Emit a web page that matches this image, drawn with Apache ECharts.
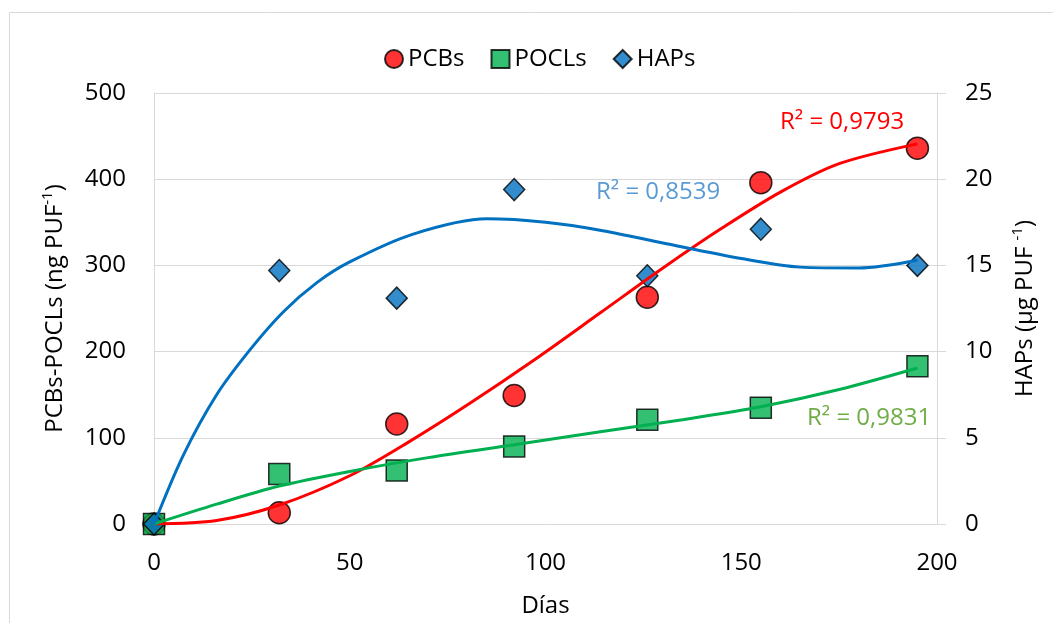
<!DOCTYPE html>
<html>
<head>
<meta charset="utf-8">
<script src="https://cdn.jsdelivr.net/npm/echarts@6/dist/echarts.min.js"></script>
<style>
  html, body { margin: 0; padding: 0; background: #fff; }
  #chart { width: 1053px; height: 623px; }
</style>
</head>
<body>
<div id="chart"></div>
<script>
// Sampling days
const days = [0, 32, 62, 92, 126, 155, 195];
// Measured amounts per sampler
const pcbs = [0, 13, 116, 149, 263, 396, 436];      // ng PUF-1
const pocls = [0, 58, 62, 90, 121, 135, 183];       // ng PUF-1
const haps = [0, 14.7, 13.1, 19.4, 14.4, 17.1, 15.0]; // µg PUF-1

// Polynomial trend lines, sampled along each fitted curve ([day, value])
const pcbsTrend = [[0, 0], [16, 4], [32, 22], [50, 56], [65, 95], [80, 138], [97, 190], [114, 245],
  [130, 297], [145, 343], [160, 385], [175, 418], [195, 441]];
const poclsTrend = [[0, 0], [16, 23], [32, 44], [50, 61], [70, 77], [92, 92], [114, 107],
  [135, 121], [155, 136], [175, 156], [195, 181]];
const hapsTrend = [[0, 0], [7.5, 4.0], [16, 7.5], [24.5, 10.1], [33, 12.3], [41.6, 14.0], [50, 15.2],
  [66, 16.8], [85, 17.7], [100, 17.5], [115, 17.0], [130, 16.3], [150, 15.4], [165, 14.9],
  [180, 14.85], [195, 15.3]];

// Coefficients of determination of each fit
const r2Labels = { pcbs: 'R² = 0,9793', haps: 'R² = 0,8539', pocls: 'R² = 0,9831' };

// Axis ticks
const xTicks = { min: 0, max: 200, interval: 50 };
const leftTicks = { min: 0, max: 500, interval: 100 };
const rightTicks = { min: 0, max: 25, interval: 5 };

const FONT = '"Open Sans", "Noto Sans", sans-serif';
const GRID_GRAY = '#d9d9d9';
const C_RED = '#ff0000', C_GREEN = '#00b050', C_BLUE = '#0070c0';

const pairs = (ys) => days.map((d, i) => [d, ys[i]]);

const chart = echarts.init(document.getElementById('chart'), null, { renderer: 'canvas' });

const markerStyle = (color) => ({ color: color, borderColor: '#000', borderWidth: 1.5 });
const trendLine = (name, data, color, yIdx) => ({
  name: name, type: 'line', data: data, yAxisIndex: yIdx, smooth: 0.3,
  showSymbol: false, symbol: 'none', z: 3, silent: true,
  lineStyle: { color: color, width: 3 }
});

const nameRich = {
  b: { fontSize: 24, fontFamily: FONT, color: '#000', lineHeight: 30 },
  s: { fontSize: 15, fontFamily: FONT, color: '#000', lineHeight: 16, verticalAlign: 'top' }
};

chart.setOption({
  animation: false,
  backgroundColor: '#fff',
  textStyle: { fontFamily: FONT },
  graphic: [
    { type: 'rect', silent: true, z: -10,
      shape: { x: 9.5, y: 12.5, width: 1200, height: 800 },
      style: { fill: 'none', stroke: GRID_GRAY, lineWidth: 1 } },
    { type: 'text', left: 780, top: 110, z: 10,
      style: { text: r2Labels.pcbs, fill: C_RED, font: '24px ' + FONT } },
    { type: 'text', left: 596, top: 180, z: 10,
      style: { text: r2Labels.haps, fill: '#5b9bd5', font: '24px ' + FONT } },
    { type: 'text', left: 807, top: 406, z: 10,
      style: { text: r2Labels.pocls, fill: '#70ad47', font: '24px ' + FONT } }
  ],
  legend: {
    data: [
      { name: 'PCBs', icon: 'circle' },
      { name: 'POCLs', icon: 'rect' },
      { name: 'HAPs', icon: 'diamond' }
    ],
    left: 379, top: 42,
    itemWidth: 18, itemHeight: 18, itemGap: 26,
    textStyle: { fontSize: 24, color: '#000', fontFamily: FONT, padding: [0, 0, 0, 0] }
  },
  grid: { left: 154, right: 116, top: 93, bottom: 99, containLabel: false },
  xAxis: {
    type: 'value', min: xTicks.min, max: xTicks.max, interval: xTicks.interval,
    name: 'Días', nameLocation: 'middle', nameGap: 70,
    nameTextStyle: { fontSize: 24, color: '#000', fontFamily: FONT },
    axisLine: { show: true, lineStyle: { color: GRID_GRAY, width: 1 } },
    axisTick: { show: false },
    splitLine: { show: false },
    axisLabel: { fontSize: 24, color: '#000', margin: 27, fontFamily: FONT }
  },
  yAxis: [
    {
      type: 'value', position: 'left',
      min: leftTicks.min, max: leftTicks.max, interval: leftTicks.interval,
      name: '{b|PCBs-POCLs (ng PUF}{s|-1}{b|)}',
      nameLocation: 'middle', nameGap: 84, nameRotate: 90,
      nameTextStyle: { rich: nameRich },
      axisLine: { show: true, lineStyle: { color: GRID_GRAY, width: 1 } },
      axisTick: { show: false },
      splitLine: { show: true, lineStyle: { color: GRID_GRAY, width: 1 } },
      axisLabel: { fontSize: 24, color: '#000', margin: 28, fontFamily: FONT }
    },
    {
      type: 'value', position: 'right',
      min: rightTicks.min, max: rightTicks.max, interval: rightTicks.interval,
      name: '{b|HAPs (µg PUF }{s|-1}{b|)}',
      nameLocation: 'middle', nameGap: 73, nameRotate: 90,
      nameTextStyle: { rich: nameRich },
      axisLine: { show: true, lineStyle: { color: GRID_GRAY, width: 1 } },
      axisTick: { show: true, length: 9, inside: false, lineStyle: { color: GRID_GRAY } },
      splitLine: { show: false },
      axisLabel: { fontSize: 24, color: '#000', margin: 28, fontFamily: FONT }
    }
  ],
  series: [
    { name: 'PCBs', type: 'scatter', data: pairs(pcbs), yAxisIndex: 0,
      symbol: 'circle', symbolSize: 22, z: 2, itemStyle: markerStyle(C_RED) },
    { name: 'POCLs', type: 'scatter', data: pairs(pocls), yAxisIndex: 0,
      symbol: 'rect', symbolSize: 21, z: 2, itemStyle: markerStyle(C_GREEN) },
    { name: 'HAPs', type: 'scatter', data: pairs(haps), yAxisIndex: 1,
      symbol: 'diamond', symbolSize: [21, 22], z: 2, itemStyle: markerStyle(C_BLUE) },
    trendLine('Tendencia PCBs', pcbsTrend, C_RED, 0),
    trendLine('Tendencia POCLs', poclsTrend, C_GREEN, 0),
    trendLine('Tendencia HAPs', hapsTrend, C_BLUE, 1)
  ]
});
</script>
</body>
</html>
